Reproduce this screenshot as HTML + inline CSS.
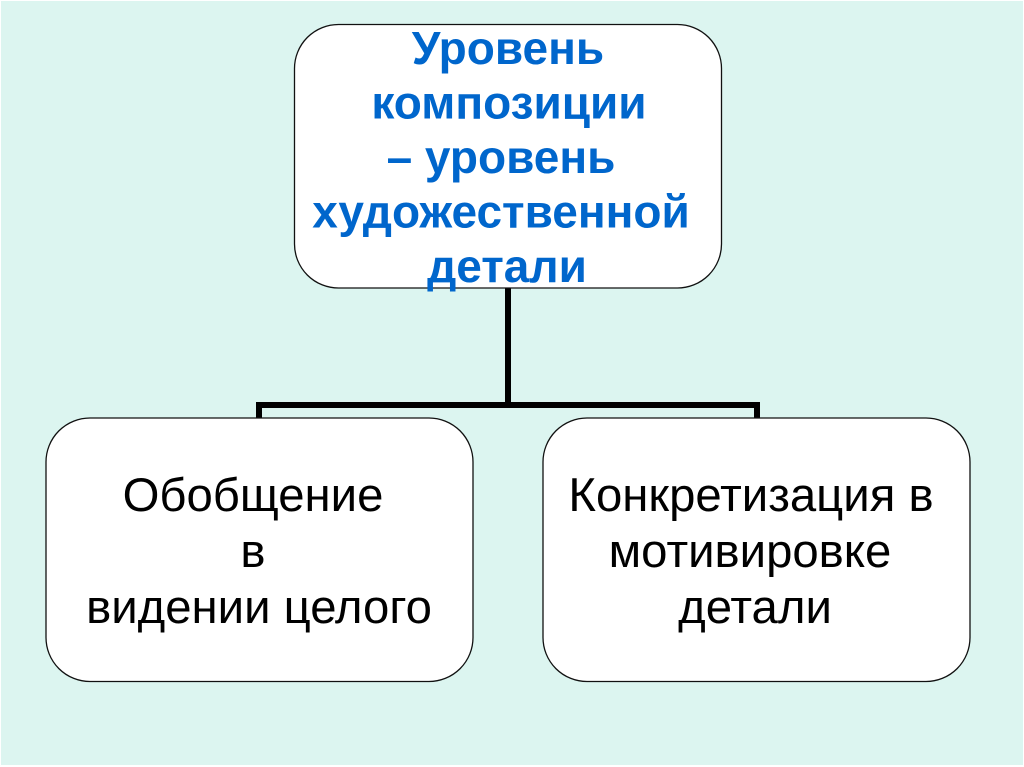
<!DOCTYPE html>
<html lang="ru">
<head>
<meta charset="utf-8">
<style>
html,body{margin:0;padding:0;width:1024px;height:767px;overflow:hidden;background:#fff}
svg{display:block}
text{font-family:"Liberation Sans",sans-serif;text-anchor:middle}
.b{font-weight:bold;fill:#0066cc;font-size:46px}
.r{fill:#000;font-size:47.3px}
</style>
</head>
<body>
<svg width="1024" height="767" viewBox="0 0 1024 767" xmlns="http://www.w3.org/2000/svg">
<rect x="1" y="1" width="1022" height="764" fill="#dcf5f0"/>
<path d="M508 288V405M259 418V405H757V418" fill="none" stroke="#000" stroke-width="6"/>
<rect x="294.5" y="24.5" width="427" height="263.5" rx="44" fill="#fff" stroke="#111" stroke-width="1.3"/>
<rect x="46" y="418" width="427" height="263.5" rx="44" fill="#fff" stroke="#111" stroke-width="1.3"/>
<rect x="543" y="418" width="427" height="263.5" rx="44" fill="#fff" stroke="#111" stroke-width="1.3"/>
<text class="b" x="508" y="64">Уровень</text>
<text class="b" x="509" y="118.5">композиции</text>
<text class="b" x="501" y="173">– уровень</text>
<text class="b" x="501" y="227.5">художественной</text>
<text class="b" x="507" y="282">детали</text>
<text class="r" x="253" y="511">Обобщение</text>
<text class="r" x="253" y="567">в</text>
<text class="r" x="259" y="623">видении целого</text>
<text class="r" x="751" y="511">Конкретизация в</text>
<text class="r" x="750" y="567">мотивировке</text>
<text class="r" x="755" y="623">детали</text>
</svg>
</body>
</html>
